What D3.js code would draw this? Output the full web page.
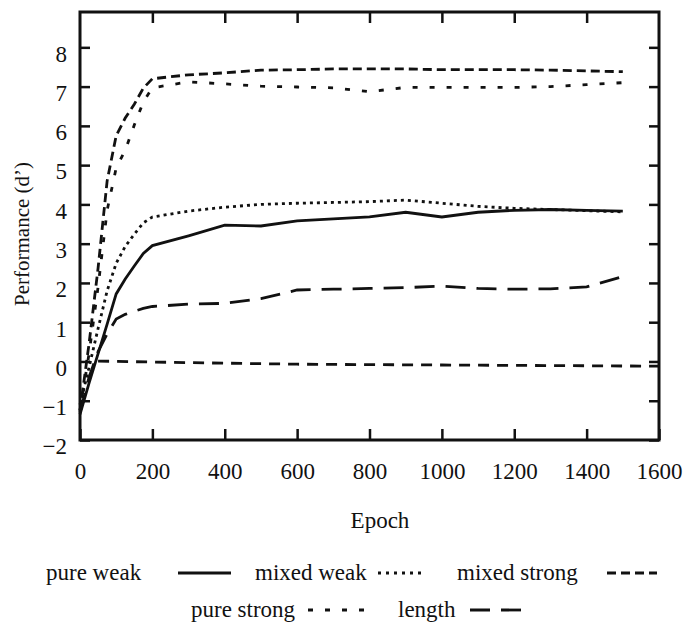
<!DOCTYPE html>
<html>
<head>
<meta charset="utf-8">
<script src="https://cdn.jsdelivr.net/npm/d3@7"></script>
</head>
<body style="margin:0;background:#fff;">
<svg id="chart" width="687" height="633"></svg>
<script>
// values (d' by training epoch)
var epochs = [0,25,50,75,100,125,150,175,200,300,400,500,600,700,800,900,1000,1100,1200,1300,1400,1500];
var pureWeak    = [-1.35,-0.55,0.2,0.95,1.72,2.1,2.43,2.75,2.95,3.2,3.47,3.45,3.58,3.63,3.68,3.8,3.68,3.8,3.85,3.87,3.85,3.83];
var mixedWeak   = [-1.1,-0.15,0.84,1.8,2.5,2.93,3.24,3.53,3.68,3.83,3.93,4.0,4.03,4.05,4.07,4.11,4.03,3.95,3.9,3.87,3.84,3.81];
var mixedStrong = [-1.25,0.45,2.38,4.6,5.75,6.2,6.55,6.96,7.2,7.3,7.35,7.42,7.43,7.45,7.45,7.45,7.43,7.43,7.43,7.42,7.4,7.38];
var pureStrong  = [-1.25,0.2,1.9,3.85,4.93,5.38,6.02,6.61,6.97,7.12,7.07,7.01,6.99,6.97,6.87,6.98,6.98,6.98,6.98,7.0,7.05,7.1];
var lengthVals  = [-1.3,-0.4,0.25,0.7,1.08,1.2,1.28,1.35,1.4,1.46,1.48,1.6,1.82,1.84,1.86,1.88,1.92,1.86,1.84,1.85,1.9,2.16];
var chanceEpochs = [50,300,600,1000,1600];
var chanceVals   = [0.01,-0.03,-0.07,-0.09,-0.12];

var xTicks = [0,200,400,600,800,1000,1200,1400,1600];
var yTicks = [-2,-1,0,1,2,3,4,5,6,7,8];
var seriesNames = ["pure weak","mixed weak","mixed strong","pure strong","length"];
var seriesVals  = [pureWeak,mixedWeak,mixedStrong,pureStrong,lengthVals];

var dashes = {
	"pure weak":"none",
	"mixed weak":"3,4",
	"mixed strong":"9,5",
	"pure strong":"5,12",
	"length":"20,11",
	"chance":"11,8"
};
var FONT = "'Liberation Serif', 'DejaVu Serif', serif";

var svg = d3.select('#chart').attr('font-family',FONT);
var x = d3.scaleLinear().domain([0,1600]).range([80,659]);
var y = d3.scaleLinear().domain([-2,8.9]).range([440,12]);

var line = d3.line()
	.x(function(d){ return x(d[0]); })
	.y(function(d){ return y(d[1]); });

function style_axis(g){
	g.attr('font-family',FONT);
	g.select('.domain').remove();
	g.selectAll('.tick line').attr('stroke','#111').attr('stroke-width',2.5);
	g.selectAll('text')
		.attr('font-size',23)
		.attr('fill','#111');
}

// inward ticks on all four sides
svg.append('g')
	.attr('transform','translate(' + x(0) + ',0)')
	.call(d3.axisLeft(y).tickValues(yTicks).tickSize(-10).tickPadding(13))
	.call(style_axis)
	.selectAll('text').attr('dy','0.6em');

svg.append('g')
	.attr('transform','translate(' + x(1600) + ',0)')
	.call(d3.axisRight(y).tickValues(yTicks).tickSize(-10).tickFormat(''))
	.call(style_axis);

svg.append('g')
	.attr('transform','translate(0,' + y(-2) + ')')
	.call(d3.axisBottom(x).tickValues(xTicks).tickSize(-11).tickPadding(23).tickFormat(d3.format('d')))
	.call(style_axis);

svg.append('g')
	.attr('transform','translate(0,' + y(8.9) + ')')
	.call(d3.axisTop(x).tickValues(xTicks.slice(1,-1)).tickSize(-11).tickFormat(''))
	.call(style_axis);

svg.append('rect')
	.attr('x',x(0))
	.attr('y',y(8.9))
	.attr('width',x(1600)-x(0))
	.attr('height',y(-2)-y(8.9))
	.attr('fill','none')
	.attr('stroke','#111')
	.attr('stroke-width',3);

// series
seriesNames.forEach(function(name,i){
	var pts = epochs.map(function(e,j){ return [e,seriesVals[i][j]]; });
	svg.append('path')
		.datum(pts)
		.attr('d',line)
		.attr('fill','none')
		.attr('stroke','#111')
		.attr('stroke-width',2.8)
		.attr('stroke-dasharray',dashes[name]);
});

svg.append('path')
	.datum(chanceEpochs.map(function(e,j){ return [e,chanceVals[j]]; }))
	.attr('d',line)
	.attr('fill','none')
	.attr('stroke','#111')
	.attr('stroke-width',2.8)
	.attr('stroke-dasharray',dashes.chance);

// axis titles
svg.append('text')
	.attr('x',380)
	.attr('y',520)
	.attr('text-anchor','middle')
	.attr('dy','0.35em')
	.attr('font-size',23)
	.attr('fill','#111')
	.text('Epoch');

svg.append('text')
	.attr('transform','translate(22,234) rotate(-90)')
	.attr('text-anchor','middle')
	.attr('dy','0.35em')
	.attr('font-size',21)
	.attr('fill','#111')
	.text('Performance (d\u2019)');

// legend
var legendItems = [
	{name:"pure weak",   tx:46,  lx:[178,231], ly:573},
	{name:"mixed weak",  tx:255, lx:[378,426], ly:573},
	{name:"mixed strong",tx:457, lx:[607,657], ly:573},
	{name:"pure strong", tx:191, lx:[308,374], ly:610},
	{name:"length",      tx:398, lx:[470,521], ly:610}
];
var legendDash = {"mixed weak":"3,5","mixed strong":"9,5","pure strong":"5,12","length":"20,11","pure weak":"none"};

var lg = svg.append('g');
legendItems.forEach(function(it){
	lg.append('text')
		.attr('x',it.tx)
		.attr('y',it.ly)
		.attr('dy','0.3em')
		.attr('font-size',23)
		.attr('fill','#111')
		.text(it.name);
	lg.append('line')
		.attr('x1',it.lx[0]).attr('x2',it.lx[1])
		.attr('y1',it.ly).attr('y2',it.ly)
		.attr('stroke','#111')
		.attr('stroke-width',2.8)
		.attr('stroke-dasharray',legendDash[it.name]);
});
</script>
</body>
</html>
